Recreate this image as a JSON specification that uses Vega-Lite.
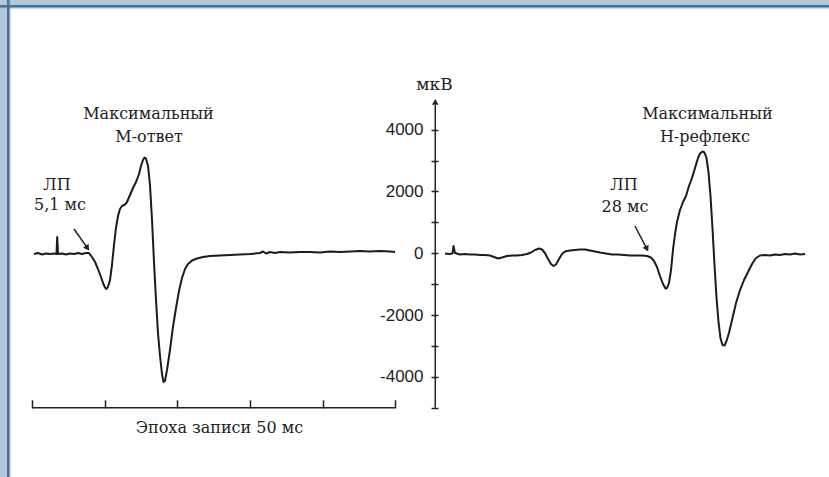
{
  "$schema": "https://vega.github.io/schema/vega-lite/v6.json",
  "width": 829,
  "height": 477,
  "autosize": "none",
  "padding": 0,
  "background": "white",
  "view": {"fill": "white", "stroke": "transparent", "strokeWidth": 0},
  "config": {
    "view": {"fill": "white", "stroke": "transparent", "strokeWidth": 0},
    "axis": {"grid": false, "domain": false}
  },
  "datasets": {
    "traces": [
      {"series": "M", "t": 0.28, "v": -23}, {"series": "M", "t": 0.83, "v": 10}, {"series": "M", "t": 1.38, "v": -39},
      {"series": "M", "t": 1.93, "v": -6}, {"series": "M", "t": 2.48, "v": -23}, {"series": "M", "t": 3.03, "v": -6},
      {"series": "M", "t": 3.37, "v": -23}, {"series": "M", "t": 3.47, "v": 528}, {"series": "M", "t": 3.58, "v": -23},
      {"series": "M", "t": 4.13, "v": -6}, {"series": "M", "t": 4.68, "v": -39}, {"series": "M", "t": 5.23, "v": -6},
      {"series": "M", "t": 5.78, "v": -23}, {"series": "M", "t": 6.33, "v": 10}, {"series": "M", "t": 6.88, "v": -23},
      {"series": "M", "t": 7.43, "v": 10}, {"series": "M", "t": 7.84, "v": 10}, {"series": "M", "t": 8.25, "v": -120},
      {"series": "M", "t": 8.67, "v": -282}, {"series": "M", "t": 9.08, "v": -508}, {"series": "M", "t": 9.49, "v": -767},
      {"series": "M", "t": 9.77, "v": -961}, {"series": "M", "t": 10.04, "v": -1107}, {"series": "M", "t": 10.25, "v": -1155},
      {"series": "M", "t": 10.45, "v": -1091}, {"series": "M", "t": 10.73, "v": -864}, {"series": "M", "t": 11.0, "v": -379},
      {"series": "M", "t": 11.28, "v": 269}, {"series": "M", "t": 11.55, "v": 819}, {"series": "M", "t": 11.83, "v": 1207},
      {"series": "M", "t": 12.1, "v": 1434}, {"series": "M", "t": 12.38, "v": 1531}, {"series": "M", "t": 12.79, "v": 1579},
      {"series": "M", "t": 13.07, "v": 1660}, {"series": "M", "t": 13.48, "v": 1887}, {"series": "M", "t": 13.89, "v": 2113},
      {"series": "M", "t": 14.31, "v": 2307}, {"series": "M", "t": 14.72, "v": 2566}, {"series": "M", "t": 14.99, "v": 2825},
      {"series": "M", "t": 15.27, "v": 3019}, {"series": "M", "t": 15.47, "v": 3100}, {"series": "M", "t": 15.68, "v": 3068},
      {"series": "M", "t": 15.96, "v": 2825}, {"series": "M", "t": 16.23, "v": 2210}, {"series": "M", "t": 16.51, "v": 1078},
      {"series": "M", "t": 16.78, "v": -282}, {"series": "M", "t": 17.06, "v": -1511}, {"series": "M", "t": 17.33, "v": -2579},
      {"series": "M", "t": 17.61, "v": -3324}, {"series": "M", "t": 17.88, "v": -3906}, {"series": "M", "t": 18.09, "v": -4165},
      {"series": "M", "t": 18.29, "v": -4133}, {"series": "M", "t": 18.57, "v": -3777}, {"series": "M", "t": 18.98, "v": -3130},
      {"series": "M", "t": 19.39, "v": -2385}, {"series": "M", "t": 19.81, "v": -1770}, {"series": "M", "t": 20.22, "v": -1220},
      {"series": "M", "t": 20.63, "v": -799}, {"series": "M", "t": 21.05, "v": -508}, {"series": "M", "t": 21.46, "v": -346},
      {"series": "M", "t": 22.01, "v": -233}, {"series": "M", "t": 22.7, "v": -168}, {"series": "M", "t": 23.52, "v": -120},
      {"series": "M", "t": 24.48, "v": -87}, {"series": "M", "t": 25.86, "v": -71}, {"series": "M", "t": 27.24, "v": -55},
      {"series": "M", "t": 28.61, "v": -39}, {"series": "M", "t": 29.99, "v": -23}, {"series": "M", "t": 31.36, "v": 10},
      {"series": "M", "t": 31.77, "v": 58}, {"series": "M", "t": 32.19, "v": -6}, {"series": "M", "t": 32.74, "v": 42},
      {"series": "M", "t": 33.43, "v": 10}, {"series": "M", "t": 34.11, "v": 42}, {"series": "M", "t": 35.49, "v": 26},
      {"series": "M", "t": 36.86, "v": 42}, {"series": "M", "t": 38.24, "v": 42}, {"series": "M", "t": 39.61, "v": 26},
      {"series": "M", "t": 40.99, "v": 58}, {"series": "M", "t": 42.37, "v": 42}, {"series": "M", "t": 43.74, "v": 58},
      {"series": "M", "t": 45.12, "v": 74}, {"series": "M", "t": 46.49, "v": 58}, {"series": "M", "t": 47.87, "v": 74},
      {"series": "M", "t": 49.24, "v": 58}, {"series": "M", "t": 49.93, "v": 42},
      {"series": "H", "t": 56.81, "v": -6}, {"series": "H", "t": 57.36, "v": -23}, {"series": "H", "t": 57.84, "v": -6},
      {"series": "H", "t": 57.98, "v": 236}, {"series": "H", "t": 58.18, "v": 10}, {"series": "H", "t": 58.87, "v": -39},
      {"series": "H", "t": 59.56, "v": -23}, {"series": "H", "t": 60.25, "v": -39}, {"series": "H", "t": 60.94, "v": -39},
      {"series": "H", "t": 61.62, "v": -55}, {"series": "H", "t": 62.31, "v": -55}, {"series": "H", "t": 63.0, "v": -71},
      {"series": "H", "t": 63.55, "v": -120}, {"series": "H", "t": 64.1, "v": -168}, {"series": "H", "t": 64.65, "v": -136},
      {"series": "H", "t": 65.34, "v": -87}, {"series": "H", "t": 66.03, "v": -71}, {"series": "H", "t": 66.71, "v": -71},
      {"series": "H", "t": 67.4, "v": -55}, {"series": "H", "t": 68.09, "v": -23}, {"series": "H", "t": 68.64, "v": 26},
      {"series": "H", "t": 69.19, "v": 107}, {"series": "H", "t": 69.74, "v": 155}, {"series": "H", "t": 70.15, "v": 123},
      {"series": "H", "t": 70.56, "v": 10}, {"series": "H", "t": 70.98, "v": -184}, {"series": "H", "t": 71.39, "v": -346},
      {"series": "H", "t": 71.73, "v": -411}, {"series": "H", "t": 72.08, "v": -362}, {"series": "H", "t": 72.49, "v": -184},
      {"series": "H", "t": 72.9, "v": -23}, {"series": "H", "t": 73.32, "v": 58}, {"series": "H", "t": 74.0, "v": 91},
      {"series": "H", "t": 74.69, "v": 107}, {"series": "H", "t": 75.38, "v": 123}, {"series": "H", "t": 76.07, "v": 123},
      {"series": "H", "t": 76.75, "v": 91}, {"series": "H", "t": 77.44, "v": 58}, {"series": "H", "t": 78.13, "v": 26},
      {"series": "H", "t": 78.95, "v": -6}, {"series": "H", "t": 79.78, "v": -39}, {"series": "H", "t": 80.61, "v": -39},
      {"series": "H", "t": 81.43, "v": -55}, {"series": "H", "t": 82.26, "v": -71}, {"series": "H", "t": 83.08, "v": -71},
      {"series": "H", "t": 83.91, "v": -71}, {"series": "H", "t": 84.59, "v": -87}, {"series": "H", "t": 85.14, "v": -136},
      {"series": "H", "t": 85.56, "v": -249}, {"series": "H", "t": 85.97, "v": -443}, {"series": "H", "t": 86.38, "v": -735},
      {"series": "H", "t": 86.8, "v": -994}, {"series": "H", "t": 87.14, "v": -1139}, {"series": "H", "t": 87.35, "v": -1123},
      {"series": "H", "t": 87.62, "v": -961}, {"series": "H", "t": 87.9, "v": -540}, {"series": "H", "t": 88.17, "v": 107},
      {"series": "H", "t": 88.45, "v": 625}, {"series": "H", "t": 88.72, "v": 1013}, {"series": "H", "t": 89.13, "v": 1401},
      {"series": "H", "t": 89.55, "v": 1660}, {"series": "H", "t": 89.96, "v": 1854}, {"series": "H", "t": 90.37, "v": 2178},
      {"series": "H", "t": 90.78, "v": 2437}, {"series": "H", "t": 91.2, "v": 2761}, {"series": "H", "t": 91.61, "v": 3084},
      {"series": "H", "t": 91.88, "v": 3230}, {"series": "H", "t": 92.23, "v": 3294}, {"series": "H", "t": 92.5, "v": 3262},
      {"series": "H", "t": 92.78, "v": 3084}, {"series": "H", "t": 93.05, "v": 2631}, {"series": "H", "t": 93.33, "v": 1854},
      {"series": "H", "t": 93.6, "v": 819}, {"series": "H", "t": 93.88, "v": -379}, {"series": "H", "t": 94.15, "v": -1414},
      {"series": "H", "t": 94.43, "v": -2223}, {"series": "H", "t": 94.7, "v": -2741}, {"series": "H", "t": 94.98, "v": -2968},
      {"series": "H", "t": 95.25, "v": -2984}, {"series": "H", "t": 95.53, "v": -2838}, {"series": "H", "t": 95.87, "v": -2579},
      {"series": "H", "t": 96.29, "v": -2159}, {"series": "H", "t": 96.84, "v": -1608}, {"series": "H", "t": 97.39, "v": -1188},
      {"series": "H", "t": 97.94, "v": -864}, {"series": "H", "t": 98.49, "v": -605}, {"series": "H", "t": 99.04, "v": -346},
      {"series": "H", "t": 99.59, "v": -152}, {"series": "H", "t": 100.14, "v": -71}, {"series": "H", "t": 100.83, "v": -55},
      {"series": "H", "t": 101.51, "v": -71}, {"series": "H", "t": 102.2, "v": -39}, {"series": "H", "t": 102.89, "v": -55},
      {"series": "H", "t": 103.58, "v": -23}, {"series": "H", "t": 104.26, "v": -39}, {"series": "H", "t": 104.95, "v": -6},
      {"series": "H", "t": 105.64, "v": -39}, {"series": "H", "t": 106.33, "v": -23}
    ],
    "labels": [
      {"text": "Максимальный", "t": 16.02, "v": 4346},
      {"text": "М-ответ", "t": 16.1, "v": 3602},
      {"text": "ЛП", "t": 3.44, "v": 2049},
      {"text": "5,1 мс", "t": 3.85, "v": 1401},
      {"text": "Максимальный", "t": 92.9, "v": 4346},
      {"text": "Н-рефлекс", "t": 92.57, "v": 3602},
      {"text": "ЛП", "t": 81.43, "v": 2049},
      {"text": "28 мс", "t": 81.57, "v": 1337}
    ]
  },
  "layer": [
    {
      "data": {"name": "traces"},
      "mark": {"type": "line", "color": "#1c1c1c", "strokeWidth": 2, "strokeJoin": "round"},
      "encoding": {
        "x": {
          "field": "t", "type": "quantitative",
          "scale": {"domain": [-4.402, 109.63], "nice": false, "zero": false},
          "axis": {
            "orient": "top", "offset": -407.8, "values": [0, 10, 20, 30, 40, 50],
            "labels": false, "ticks": true, "tickSize": 8, "tickWidth": 1.5, "tickColor": "#222",
            "title": "Эпоха записи 50 мс", "titleX": 219, "titleY": 24.2, "titleAlign": "center",
            "titleBaseline": "alphabetic", "titleAngle": 0, "titleFont": "DejaVu Serif",
            "titleFontSize": 16, "titleFontWeight": "normal", "titleColor": "#222"
          }
        },
        "y": {
          "field": "v", "type": "quantitative",
          "scale": {"domain": [-7239.5, 8197.4], "nice": false, "zero": false},
          "axis": {
            "orient": "left", "offset": -438,
            "values": [-5000, -4000, -3000, -2000, -1000, 0, 1000, 2000, 3000, 4000],
            "labelExpr": "datum.value % 2000 == 0 ? '' + datum.value : ''",
            "labelFont": "Liberation Sans", "labelFontSize": 17, "labelColor": "#222", "labelPadding": 8,
            "ticks": true, "tickSize": 7, "tickWidth": 1.5, "tickColor": "#222",
            "title": "мкВ", "titleX": -4, "titleY": 89, "titleAlign": "center", "titleBaseline": "alphabetic",
            "titleAngle": 0, "titleFont": "DejaVu Serif", "titleFontSize": 17, "titleFontWeight": "normal", "titleColor": "#222"
          }
        },
        "detail": {"field": "series"}
      }
    },
    {
      "data": {"values": [{}]},
      "mark": {"type": "rule", "color": "#b4c8dd", "strokeWidth": 10},
      "encoding": {
        "y": {"datum": 8197.4, "type": "quantitative", "scale": {"domain": [-7239.5, 8197.4], "nice": false, "zero": false}}
      }
    },
    {
      "data": {"values": [{}]},
      "mark": {"type": "rule", "color": "#b4c8dd", "strokeWidth": 14},
      "encoding": {
        "x": {"datum": -4.402, "type": "quantitative", "scale": {"domain": [-4.402, 109.63], "nice": false, "zero": false}}
      }
    },
    {
      "data": {"values": [{}]},
      "mark": {"type": "rule", "color": "#9db5cc", "strokeWidth": 1},
      "encoding": {
        "y": {"datum": 7938.5, "type": "quantitative", "scale": {"domain": [-7239.5, 8197.4], "nice": false, "zero": false}}
      }
    },
    {
      "data": {"values": [{}]},
      "mark": {"type": "rule", "color": "#9db5cc", "strokeWidth": 1},
      "encoding": {
        "x": {"datum": -3.026, "type": "quantitative", "scale": {"domain": [-4.402, 109.63], "nice": false, "zero": false}}
      }
    },
    {
      "data": {"values": [{}]},
      "mark": {"type": "rule", "color": "#4a7191", "strokeWidth": 2.5},
      "encoding": {
        "y": {"datum": 7995.1, "type": "quantitative", "scale": {"domain": [-7239.5, 8197.4], "nice": false, "zero": false}}
      }
    },
    {
      "data": {"values": [{}]},
      "mark": {"type": "rule", "color": "#4a7191", "strokeWidth": 2.5},
      "encoding": {
        "x": {"datum": -3.267, "type": "quantitative", "scale": {"domain": [-4.402, 109.63], "nice": false, "zero": false}}
      }
    },
    {
      "data": {"values": [{"t": 55.47, "v": -5000, "v2": 4800}]},
      "mark": {"type": "rule", "color": "#222", "strokeWidth": 1.5},
      "encoding": {
        "x": {"field": "t", "type": "quantitative", "scale": {"domain": [-4.402, 109.63], "nice": false, "zero": false}},
        "y": {"field": "v", "type": "quantitative", "scale": {"domain": [-7239.5, 8197.4], "nice": false, "zero": false}},
        "y2": {"field": "v2"}
      }
    },
    {
      "data": {"values": [{"t": 55.47, "v": 4900}]},
      "mark": {"type": "point", "shape": "triangle-up", "filled": true, "color": "#222", "size": 45, "opacity": 1},
      "encoding": {
        "x": {"field": "t", "type": "quantitative", "scale": {"domain": [-4.402, 109.63], "nice": false, "zero": false}},
        "y": {"field": "v", "type": "quantitative", "scale": {"domain": [-7239.5, 8197.4], "nice": false, "zero": false}}
      }
    },
    {
      "data": {"values": [{"t": 0, "t2": 50, "v": -5000}]},
      "mark": {"type": "rule", "color": "#222", "strokeWidth": 1.5},
      "encoding": {
        "x": {"field": "t", "type": "quantitative", "scale": {"domain": [-4.402, 109.63], "nice": false, "zero": false}},
        "x2": {"field": "t2"},
        "y": {"field": "v", "type": "quantitative", "scale": {"domain": [-7239.5, 8197.4], "nice": false, "zero": false}}
      }
    },
    {
      "data": {"values": [{"t": 5.78, "v": 786, "t2": 7.63, "v2": 168}, {"t": 82.94, "v": 883, "t2": 84.58, "v2": 142}]},
      "mark": {"type": "rule", "color": "#222", "strokeWidth": 1.5},
      "encoding": {
        "x": {"field": "t", "type": "quantitative", "scale": {"domain": [-4.402, 109.63], "nice": false, "zero": false}},
        "x2": {"field": "t2"},
        "y": {"field": "v", "type": "quantitative", "scale": {"domain": [-7239.5, 8197.4], "nice": false, "zero": false}},
        "y2": {"field": "v2"}
      }
    },
    {
      "data": {"values": [{"t": 7.63, "v": 168}]},
      "mark": {"type": "point", "shape": "triangle-down", "filled": true, "color": "#222", "size": 45, "opacity": 1, "angle": 325},
      "encoding": {
        "x": {"field": "t", "type": "quantitative", "scale": {"domain": [-4.402, 109.63], "nice": false, "zero": false}},
        "y": {"field": "v", "type": "quantitative", "scale": {"domain": [-7239.5, 8197.4], "nice": false, "zero": false}}
      }
    },
    {
      "data": {"values": [{"t": 84.58, "v": 142}]},
      "mark": {"type": "point", "shape": "triangle-down", "filled": true, "color": "#222", "size": 45, "opacity": 1, "angle": 333},
      "encoding": {
        "x": {"field": "t", "type": "quantitative", "scale": {"domain": [-4.402, 109.63], "nice": false, "zero": false}},
        "y": {"field": "v", "type": "quantitative", "scale": {"domain": [-7239.5, 8197.4], "nice": false, "zero": false}}
      }
    },
    {
      "data": {"name": "labels"},
      "mark": {"type": "text", "font": "DejaVu Serif", "fontSize": 16, "color": "#222", "align": "center", "baseline": "alphabetic"},
      "encoding": {
        "x": {"field": "t", "type": "quantitative", "scale": {"domain": [-4.402, 109.63], "nice": false, "zero": false}},
        "y": {"field": "v", "type": "quantitative", "scale": {"domain": [-7239.5, 8197.4], "nice": false, "zero": false}},
        "text": {"field": "text"}
      }
    }
  ]
}
